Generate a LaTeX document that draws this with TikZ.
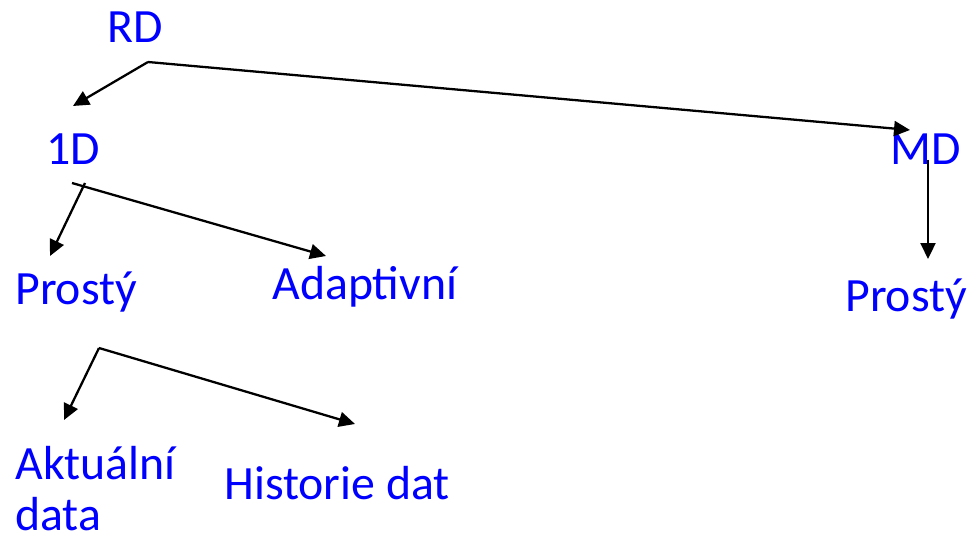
\documentclass[tikz,border=0pt]{standalone}
\usepackage{fontspec}
\setmainfont{Carlito}
\usetikzlibrary{arrows.meta}

\tikzset{
  label text/.style={anchor=base west, inner sep=0pt, text=blue,
    font=\fontsize{27.2}{29}\selectfont},
  branch/.style={line width=1.3pt, -{Triangle[length=0.32cm,width=0.3cm]}}
}

\begin{document}
\begin{tikzpicture}[x=0.02cm,y=-0.02cm]
\useasboundingbox (0,0) rectangle (973,540);

% Labels
\node[label text] (RD) at (107,43) {RD};
\node[label text] (1D) at (46,165) {1D};
\node[label text] (MD) at (890,165) {MD};
\node[label text] (P1) at (15,305) {Prostý};
\node[label text] (AD) at (272,300) {Adaptivní};
\node[label text] (P2) at (845,312) {Prostý};
\node[label text, align=left] (AK) at (15,530) {Aktuální\\data};
\node[label text] (HD) at (224,499) {Historie dat};

% Branch points and arrow tips
\coordinate (RDfork) at (148,62);
\coordinate (1Dfork) at (85,183);
\coordinate (1Dfork2) at (72,183);
\coordinate (MDfork) at (928,160);
\coordinate (P1fork) at (99,348);
\coordinate (1Dtip) at (73,106);
\coordinate (MDtip) at (910,130);
\coordinate (P1tip) at (50,256);
\coordinate (ADtip) at (326,256);
\coordinate (P2tip) at (928,259);
\coordinate (AKtip) at (64,420);
\coordinate (HDtip) at (355,424);

% Arrows
\draw[branch] (RDfork) -- (1Dtip);
\draw[branch] (RDfork) -- (MDtip);
\draw[branch] (1Dfork) -- (P1tip);
\draw[branch] (1Dfork2) -- (ADtip);
\draw[branch] (MDfork) -- (P2tip);
\draw[branch] (P1fork) -- (AKtip);
\draw[branch] (P1fork) -- (HDtip);

\end{tikzpicture}
\end{document}
